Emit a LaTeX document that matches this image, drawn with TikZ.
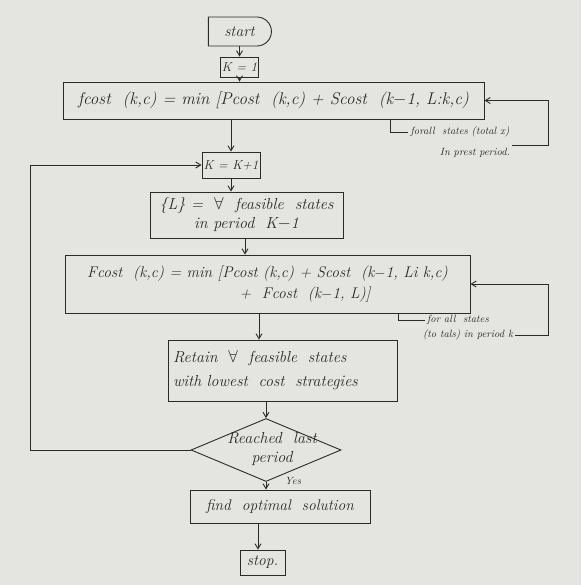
\documentclass[tikz,border=0pt]{standalone}
\usetikzlibrary{arrows.meta,shapes.geometric,shapes.misc}
\definecolor{paper}{HTML}{E4E4E0}
\definecolor{ink}{HTML}{2A2A2A}
\begin{document}
\begin{tikzpicture}[x=1pt,y=-1pt,
  box/.style={draw=ink,line width=0.9pt,text=ink,inner sep=1pt,align=center},
  flow/.style={draw=ink,line width=0.9pt,-{Straight Barb[length=5pt,width=6pt]}},
  plain/.style={draw=ink,line width=0.9pt},
  note/.style={text=ink,font=\itshape\fontsize{10.5}{12}\selectfont,inner sep=0pt},
  big/.style={font=\itshape\fontsize{15.5}{19}\selectfont},
  every node/.style={font=\itshape\fontsize{13}{17}\selectfont}]
\fill[paper] (0,0) rectangle (581,585);
\useasboundingbox (0,0) rectangle (581,585);
% nodes
\node[box,big,rounded rectangle,rounded rectangle left arc=none,minimum width=65pt,minimum height=29pt] (start) at (239.5,31.5) {start};
\node[box,minimum width=35pt,minimum height=20pt] (k1) at (239.5,67) {K = 1};
\node[box,minimum width=421pt,minimum height=37pt,font=\itshape\fontsize{17}{20}\selectfont] (fc) at (273.5,100.5)
  {fcost \ (k,c) = min [Pcost \ (k,c) + Scost \ (k$-$1, L:k,c)};
\node[box,minimum width=58pt,minimum height=26pt] (kk) at (231,165) {K = K+1};
\node[box,big,minimum width=193pt,minimum height=46pt,font=\itshape\fontsize{16}{19}\selectfont] (ll) at (246.5,215) {\{L\} = \ $\forall$ \ feasible \ states\\in period \ K$-$1};
\node[box,minimum width=405pt,minimum height=58pt,font=\itshape\fontsize{15.5}{21}\selectfont] (Fc) at (267.5,284)
  {Fcost \ (k,c) = min [Pcost (k,c) + Scost \ (k$-$1, Li k,c)\\\hspace*{75pt}+ \ Fcost \ (k$-$1, L)]};
\node[box,minimum width=229pt,minimum height=61pt,align=left,text width=219pt,font=\itshape\fontsize{16}{24}\selectfont] (ret) at (282.5,370.5)
  {Retain \ $\forall$ \ feasible \ states\\with lowest \ cost \ strategies};
\node[box,diamond,aspect=2.4,minimum width=150pt,minimum height=63pt,inner sep=0pt] (dia) at (266,450) {};
\node[text=ink,font=\itshape\fontsize{16}{19}\selectfont,align=center,inner sep=0pt] (dt) at (272,449) {Reached \ last\\period};
\node[box,big,minimum width=180pt,minimum height=33pt] (find) at (280,506.5) {find \ optimal \ solution};
\node[box,big,minimum width=45pt,minimum height=25pt] (stop) at (262.5,562.5) {stop.};
% side notes
\node[note] (n1) at (460,132) {forall \ states (total x)};
\node[note] (n2) at (475,153) {In prest period.};
\node[note] (n3) at (458,320) {for all \ states};
\node[note] (n4) at (468,335) {(to tals) in period k};
\node[note] (yes) at (293,481) {Yes};
% coordinates
\coordinate (lx) at (30,0);
\coordinate (rx) at (548,0);
\coordinate (b1) at (390,0);
\coordinate (b2) at (398,0);
% main flow
\draw[flow] (start.south) -- (k1.north);
\draw[flow] (k1.south) -- (k1.south |- fc.north);
\draw[flow] (kk.north |- fc.south) -- (kk.north);
\draw[flow] (kk.south) -- (kk.south |- ll.north);
\coordinate (c1) at (245,0);
\draw[flow] (c1 |- ll.south) -- (c1 |- Fc.north);
\coordinate (c2) at (259,0);
\draw[flow] (c2 |- Fc.south) -- (c2 |- ret.north);
\draw[flow] (ret.south -| dia.north) -- (dia.north);
\draw[flow] (dia.south) -- (dia.south |- find.north);
\coordinate (c3) at (258,0);
\draw[flow] (c3 |- find.south) -- (c3 |- stop.north);
% loops
\draw[flow] (dia.west) -- (dia.west -| lx) |- (kk.west);
\draw[flow] (n2.east) ++(2,-8) coordinate (e1) -- (e1 -| rx) |- (fc.east);
\draw[flow] (n4.east) ++(2,0) coordinate (e2) -- (e2 -| rx) |- (Fc.east);
% brackets
\draw[plain] (b1 |- fc.south) -- (b1 |- n1.west) -- ([xshift=-2pt]n1.west);
\draw[plain] (b2 |- Fc.south) -- (b2 |- n3.west) -- ([xshift=-2pt]n3.west);
\end{tikzpicture}
\end{document}
